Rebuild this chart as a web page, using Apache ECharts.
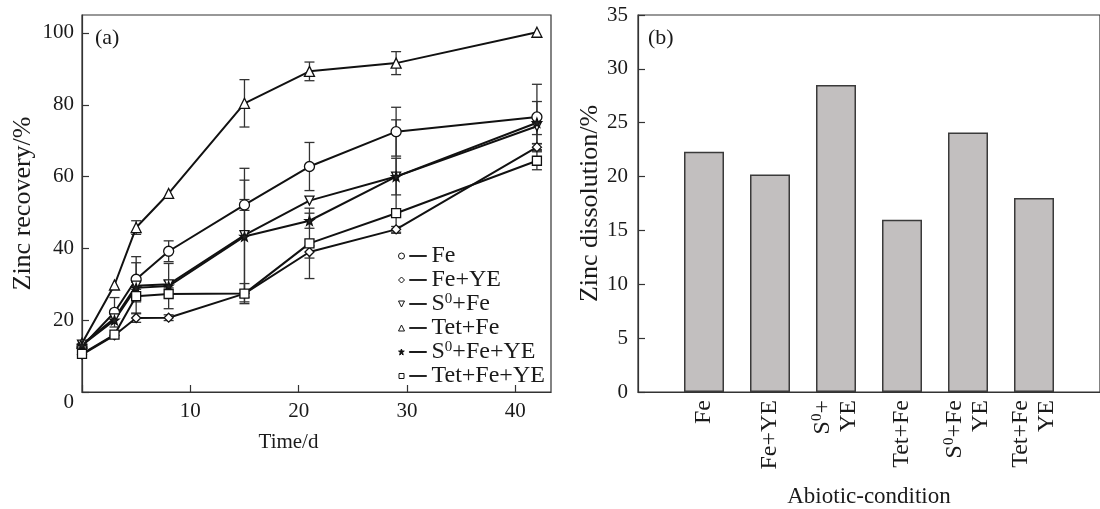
<!DOCTYPE html>
<html>
<head>
<meta charset="utf-8">
<script src="https://cdn.jsdelivr.net/npm/echarts@6/dist/echarts.min.js"></script>
<style>html,body{margin:0;padding:0;background:#fff;}#c{width:1100px;height:509px;}</style>
</head>
<body>
<div id="c"></div>
<script>
// ---- data: panel (a) ----
const days = [0, 3, 5, 8, 15, 21, 29, 42];
const fe        = [12.7, 22.2, 31.4, 39.2, 52.1, 62.8, 72.5, 76.6];
const feErr     = [0, 4.1, 6.3, 2.9, 1.5, 6.7, 6.8, 9.1];
const feYe      = [10.4, 15.8, 20.6, 20.7, 27.4, 39.0, 45.3, 68.2];
const feYeErr   = [0, 0, 1.2, 0.8, 1.0, 1.7, 0.8, 1.0];
const s0Fe      = [13.2, 20.5, 29.6, 30.0, 43.7, 53.3, 60.0, 74.0];
const s0FeErr   = [0, 0, 1.0, 1.0, 18.6, 0, 5.1, 2.3];
const tetFe     = [13.6, 29.8, 45.8, 55.3, 80.4, 89.3, 91.6, 100.2];
const tetFeErr  = [0, 0, 1.9, 0, 6.6, 2.6, 3.2, 0];
const s0FeYe    = [13.0, 20.0, 29.0, 29.5, 43.3, 47.7, 60.0, 75.0];
const s0FeYeErr = [0, 0, 7.0, 6.3, 15.7, 2.1, 15.8, 5.9];
const tetFeYe   = [10.6, 16.0, 26.7, 27.3, 27.4, 41.4, 49.8, 64.4];
const tetFeYeErr= [0, 0, 0, 0, 2.8, 9.8, 0, 2.5];
const seriesNames = ['Fe', 'Fe+YE', 'S0+Fe', 'Tet+Fe', 'S0+Fe+YE', 'Tet+Fe+YE'];
const yTicksA = [0, 20, 40, 60, 80, 100];
const xTicksA = [10, 20, 30, 40];

// ---- data: panel (b) ----
const conditions = ['Fe', 'Fe+YE', 'S0+\nYE', 'Tet+Fe', 'S0+Fe\nYE', 'Tet+Fe\nYE'];
const dissolution = [22.3, 20.2, 28.5, 16.0, 24.1, 18.0];
const yTicksB = [0, 5, 10, 15, 20, 25, 30, 35];

const FONT = "'Liberation Serif','Times New Roman',serif";
const TXT = '#1a1a1a';

const STAR = 'path://M0,-10L2.35,-3.24L9.51,-3.09L3.8,1.24L5.88,8.09L0,4.2L-5.88,8.09L-3.8,1.24L-9.51,-3.09L-2.35,-3.24Z';
const symbols = ['circle', 'diamond', 'triangle', 'triangle', STAR, 'rect'];
const rotates = [0, 0, 180, 0, 0, 0];
const sizes = [10, 9, 9, 10, 9, 9];
const DASH = 'M11,2.6L28,2.6L28,3.4L11,3.4Z';
const legendIcons = [
  'path://M0,3A3,3,0,1,1,6,3A3,3,0,1,1,0,3Z' + DASH,
  'path://M3,0L6,3L3,6L0,3Z' + DASH,
  'path://M0,0L6,0L3,6Z' + DASH,
  'path://M3,0L6,6L0,6Z' + DASH,
  'path://M3,0L3.7,2.03L5.85,2.07L4.14,3.37L4.76,6L3,4.6L1.24,6L1.86,3.37L0.15,2.07L2.3,2.03Z' + DASH,
  'path://M0.5,0.5L5.5,0.5L5.5,5.5L0.5,5.5Z M0,3L0,3' + DASH
];
const values = [fe, feYe, s0Fe, tetFe, s0FeYe, tetFeYe];
const errs = [feErr, feYeErr, s0FeErr, tetFeErr, s0FeYeErr, tetFeYeErr];

function sup(s) {
  return s.split('\n').map(line => {
    const parts = line.split('S0');
    return parts.map(p => p ? '{n|' + p + '}' : '').join('{n|S}{sup|0}');
  }).join('\n');
}
const richText = (size, lh) => ({
  n: { fontFamily: FONT, fontSize: size, color: TXT, lineHeight: lh },
  sup: { fontFamily: FONT, fontSize: Math.round(size * 0.62), color: TXT, verticalAlign: 'top', lineHeight: lh }
});

const lineSeries = seriesNames.map((name, k) => ({
  name, type: 'line', xAxisIndex: 0, yAxisIndex: 0,
  data: days.map((d, i) => [d, values[k][i]]),
  symbol: symbols[k], symbolRotate: rotates[k], symbolSize: sizes[k],
  showAllSymbol: true,
  lineStyle: { color: '#111', width: 2 },
  itemStyle: { color: k === 4 ? '#222' : '#fff', borderColor: '#111', borderWidth: 1.3 },
  z: 3
}));

const errSeries = seriesNames.map((name, k) => ({
  name: name + ' err', type: 'custom', xAxisIndex: 0, yAxisIndex: 0,
  data: days.map((d, i) => [d, values[k][i] - errs[k][i], values[k][i] + errs[k][i]]).filter((r, i) => errs[k][i] > 0),
  encode: { x: 0, y: [1, 2] },
  z: 2,
  renderItem: function (params, api) {
    const x = api.value(0), lo = api.value(1), hi = api.value(2);
    const a = api.coord([x, lo]), b = api.coord([x, hi]);
    const w = 5, st = { stroke: '#333', lineWidth: 1.3 };
    return { type: 'group', children: [
      { type: 'line', shape: { x1: a[0], y1: a[1], x2: b[0], y2: b[1] }, style: st },
      { type: 'line', shape: { x1: a[0] - w, y1: a[1], x2: a[0] + w, y2: a[1] }, style: st },
      { type: 'line', shape: { x1: b[0] - w, y1: b[1], x2: b[0] + w, y2: b[1] }, style: st }
    ]};
  }
}));

const axisCommon = {
  axisLine: { show: true, lineStyle: { color: '#333', width: 1.2 } },
  axisTick: { show: true, inside: true, length: 7, lineStyle: { color: '#333', width: 1.2 } },
  splitLine: { show: false },
  axisLabel: { fontFamily: FONT, fontSize: 21, color: TXT, showMaxLabel: false }
};

const chart = echarts.init(document.getElementById('c'), null, { renderer: 'canvas' });
chart.setOption({
  animation: false,
  backgroundColor: '#fff',
  title: [
    { text: '(a)', left: 90, top: 22, textStyle: { fontFamily: FONT, fontSize: 22, fontWeight: 'normal', color: TXT } },
    { text: '(b)', left: 643, top: 22, textStyle: { fontFamily: FONT, fontSize: 22, fontWeight: 'normal', color: TXT } }
  ],
  grid: [
    { left: 82, right: 549, top: 15, bottom: 117, show: true, borderColor: '#333', borderWidth: 1.2,
      backgroundColor: 'transparent', containLabel: false, outerBoundsMode: 'none' },
    { left: 638, right: 0, top: 15, bottom: 117, show: true, borderColor: '#333', borderWidth: 1.2,
      backgroundColor: 'transparent', containLabel: false, outerBoundsMode: 'none' }
  ],
  legend: {
    orient: 'vertical', left: 393, top: 239, itemGap: 0,
    itemWidth: 28, itemHeight: 6,
    data: seriesNames.map((n, k) => ({ name: n, icon: legendIcons[k],
      itemStyle: { color: k === 4 ? '#111' : '#fff', borderColor: '#111', borderWidth: 1 } })),
    formatter: n => sup(n),
    textStyle: { fontFamily: FONT, fontSize: 24, color: TXT, lineHeight: 24, rich: richText(24, 24) },
    selectedMode: false
  },
  xAxis: [
    Object.assign({}, axisCommon, {
      type: 'value', gridIndex: 0, min: 0, max: 43.3, interval: 10,
      name: 'Time/d', nameLocation: 'middle', nameGap: 40,
      nameTextStyle: { fontFamily: FONT, fontSize: 21, color: TXT, padding: [0, 56, 0, 0] },
      axisLabel: Object.assign({}, axisCommon.axisLabel, { margin: 9,
        formatter: v => xTicksA.includes(v) ? String(v) : '' })
    }),
    {
      type: 'value', gridIndex: 1, min: 0, max: 7, interval: 1,
      name: 'Abiotic-condition', nameLocation: 'middle', nameGap: 93,
      nameTextStyle: { fontFamily: FONT, fontSize: 23, color: TXT },
      axisLine: { show: true, lineStyle: { color: '#333', width: 1.2 } },
      axisTick: { show: false }, splitLine: { show: false },
      axisLabel: { rotate: 90, margin: 8, fontFamily: FONT, fontSize: 24, color: TXT,
        rich: richText(24, 26),
        formatter: v => (v >= 1 && v <= conditions.length) ? sup(conditions[v - 1]) : '' }
    }
  ],
  yAxis: [
    Object.assign({}, axisCommon, {
      type: 'value', gridIndex: 0, min: 0, max: 105, interval: 20,
      name: 'Zinc recovery/%', nameLocation: 'middle', nameGap: 46,
      nameTextStyle: { fontFamily: FONT, fontSize: 26, color: TXT },
      axisLabel: Object.assign({}, axisCommon.axisLabel, { margin: 8,
        rich: { z: { fontFamily: FONT, fontSize: 21, color: TXT, padding: [20, 0, 0, 0] } },
        formatter: v => v === 0 ? '{z|0}' : (yTicksA.includes(v) ? String(v) : '') })
    }),
    Object.assign({}, axisCommon, {
      type: 'value', gridIndex: 1, min: 0, max: 35, interval: 5,
      name: 'Zinc dissolution/%', nameLocation: 'middle', nameGap: 18,
      nameTextStyle: { fontFamily: FONT, fontSize: 26, color: TXT },
      axisLabel: Object.assign({}, axisCommon.axisLabel, { margin: 10, showMaxLabel: true,
        formatter: v => yTicksB.includes(v) ? String(v) : '' })
    })
  ],
  series: errSeries.concat(lineSeries).concat([{
    name: 'Zinc dissolution', type: 'bar', xAxisIndex: 1, yAxisIndex: 1,
    data: dissolution.map((v, i) => [i + 1, v]),
    barWidth: 40,
    itemStyle: { color: '#c2bfbf', borderColor: '#3a3a3a', borderWidth: 1.5 }
  }])
});
</script>
</body>
</html>
